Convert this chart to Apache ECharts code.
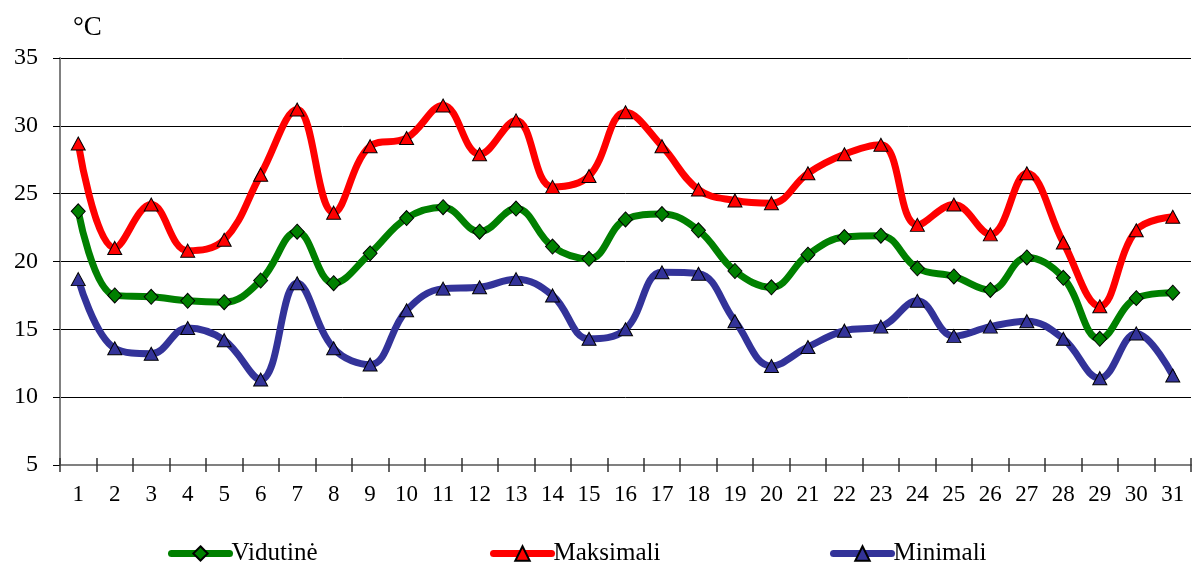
<!DOCTYPE html>
<html>
<head>
<meta charset="utf-8">
<script src="https://cdn.jsdelivr.net/npm/echarts@6/dist/echarts.min.js"></script>
<style>
html,body{margin:0;padding:0;background:#fff;}
#chart{width:1203px;height:567px;}
</style>
</head>
<body>
<div id="chart"></div>
<script>
const days = ['1','2','3','4','5','6','7','8','9','10','11','12','13','14','15','16','17','18','19','20','21','22','23','24','25','26','27','28','29','30','31'];
const vidutine = [23.7,17.5,17.4,17.1,17.0,18.6,22.2,18.4,20.6,23.2,24.0,22.2,23.9,21.1,20.2,23.1,23.5,22.3,19.3,18.1,20.5,21.8,21.9,19.5,18.9,17.9,20.3,18.8,14.3,17.3,17.7];
const maksimali = [28.7,21.0,24.2,20.8,21.6,26.4,31.2,23.6,28.5,29.1,31.5,27.9,30.4,25.5,26.3,31.0,28.5,25.3,24.5,24.3,26.5,27.9,28.6,22.7,24.2,22.0,26.5,21.4,16.7,22.3,23.3];
const minimali = [18.7,13.6,13.2,15.1,14.2,11.3,18.4,13.6,12.4,16.4,18.0,18.1,18.7,17.5,14.3,15.0,19.2,19.1,15.6,12.3,13.7,14.9,15.2,17.1,14.5,15.2,15.6,14.3,11.4,14.7,11.6];
const yTicks = {min:5, max:35, interval:5};
const names = ['Vidutinė','Maksimali','Minimali'];

const FONT = 'Liberation Serif';
const chart = echarts.init(document.getElementById('chart'), null, {renderer:'canvas'});

function lineSeries(name, data, color, symbol, size) {
  return {
    name: name, type: 'line', data: data, smooth: 0.4,
    symbol: symbol, symbolSize: size,
    lineStyle: {color: color, width: 7},
    itemStyle: {color: color, borderColor: '#000', borderWidth: 1},
    emphasis: {disabled: true},
    z: 3
  };
}

const legendCommon = {
  top: 541, padding: 0, itemWidth: 58, itemHeight: 18, itemGap: 0,
  lineStyle: {width: 7, cap: 'round'},
  textStyle: {fontFamily: FONT, fontSize: 25, color: '#000', padding: [0,0,0,-3]}
};

chart.setOption({
  animation: false,
  backgroundColor: '#fff',
  title: {text: '°C', left: 68, top: 9, textStyle: {fontFamily: FONT, fontSize: 27, fontWeight: 'normal', color: '#000'}},
  grid: {left: 60, right: 12, top: 58, bottom: 102, containLabel: false},
  legend: [
    Object.assign({}, legendCommon, {left: 168, data: [names[0]]}),
    Object.assign({}, legendCommon, {left: 490, data: [names[1]]}),
    Object.assign({}, legendCommon, {left: 830, data: [names[2]]})
  ],
  xAxis: [{
    type: 'category', data: days, boundaryGap: true,
    axisLine: {lineStyle: {color: '#808080', width: 2}},
    axisTick: {show: true, length: 7, lineStyle: {color: '#333', width: 1.5}},
    axisLabel: {fontFamily: FONT, fontSize: 23, color: '#000', margin: 18},
    splitLine: {show: false}
  }, {
    type: 'category', data: days, boundaryGap: true, position: 'bottom',
    axisLine: {show: false},
    axisTick: {show: true, inside: true, length: 7, lineStyle: {color: '#333', width: 1.5}},
    axisLabel: {show: false},
    splitLine: {show: false}
  }],
  yAxis: {
    type: 'value', min: yTicks.min, max: yTicks.max, interval: yTicks.interval,
    axisLine: {show: true, lineStyle: {color: '#808080', width: 2}},
    axisTick: {show: true, length: 7, lineStyle: {color: '#000', width: 1}},
    axisLabel: {fontFamily: FONT, fontSize: 24, color: '#000', margin: 22},
    splitLine: {show: true, lineStyle: {color: '#000', width: 1}}
  },
  series: [
    lineSeries(names[0], vidutine, '#008000', 'diamond', [14,15]),
    lineSeries(names[1], maksimali, '#FF0000', 'triangle', [14,13]),
    lineSeries(names[2], minimali, '#333399', 'triangle', [14,13])
  ]
});
</script>
</body>
</html>
